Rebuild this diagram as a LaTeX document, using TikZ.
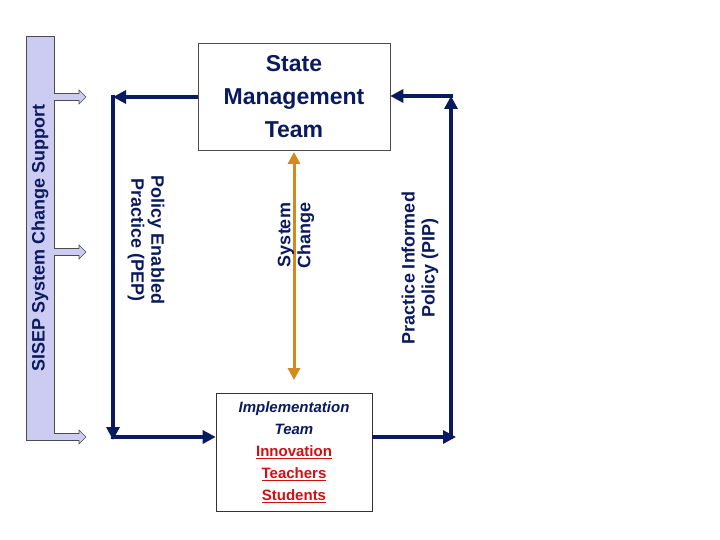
\documentclass[tikz,border=0pt]{standalone}
\usepackage{fontspec}
\setmainfont{Liberation Sans}
\usetikzlibrary{arrows.meta}
\definecolor{navy}{HTML}{0A1A5E}
\definecolor{lav}{HTML}{CCCCF2}
\definecolor{orng}{HTML}{D4891C}
\definecolor{redt}{HTML}{D01010}
\begin{document}
\begin{tikzpicture}[x=1pt,y=-1pt,
  loop/.style={navy,line width=4.5pt,-{Triangle[length=13pt,width=13pt]}},
  lbl/.style={font=\bfseries\fontsize{18}{20}\selectfont,text=navy,align=center}]
\useasboundingbox (0,0) rectangle (720,540);
\node[draw=gray!60!black,fill=lav,minimum width=28pt,minimum height=404pt,inner sep=0] (bar) at (40,238) {};
\node[rotate=90,font=\bfseries\fontsize{18}{19}\selectfont,text=navy] at (bar.center) {SISEP System Change Support};
\foreach \yy in {97,252,437}{
  \draw[gray!60!black,fill=lav,line width=0.6pt]
    (54,\yy-3.5) -- (79,\yy-3.5) -- (79,\yy-7) -- (86,\yy) -- (79,\yy+7) -- (79,\yy+3.5) -- (54,\yy+3.5);
}
\node[draw=black!70,line width=0.6pt,minimum width=192pt,minimum height=107pt,align=center,
  font=\bfseries\fontsize{23}{33}\selectfont,text=navy] (smt) at (294,96.5) {State\\Management\\Team};
\node[draw=black!80,line width=0.6pt,minimum width=156pt,minimum height=118pt,align=center,
  font=\bfseries\fontsize{15}{22}\selectfont] (imp) at (294,452)
  {\textcolor{navy}{\itshape Implementation}\\\textcolor{navy}{\itshape Team}\\
   \textcolor{redt}{\underline{Innovation}}\\\textcolor{redt}{\underline{Teachers}}\\\textcolor{redt}{\underline{Students}}};
\coordinate (tl) at (113,97); \coordinate (bl) at (113,440); \coordinate (bl2) at (111,437);
\coordinate (br) at (456,437); \coordinate (br2) at (451,439); \coordinate (tr) at (451,96);
\draw[loop] (smt.west |- tl) -- (tl);
\draw[loop] (113,95) -- (bl);
\draw[loop] (bl2) -- (imp.west |- bl2);
\draw[loop] (imp.east |- br) -- (br);
\draw[loop] (br2) -- (tr);
\draw[loop] (453,96) -- (smt.east |- tr);
\draw[orng,line width=3pt,{Triangle[length=12pt,width=12pt]}-{Triangle[length=12pt,width=12pt]}] (294,152) -- (294,380);
\node[lbl,rotate=-90] at (146,240) {Policy Enabled\\Practice (PEP)};
\node[lbl,rotate=90,text=navy] at (296,235) {System\\Change};
\node[lbl,rotate=90] at (420,268) {Practice Informed\\Policy (PIP)};
\end{tikzpicture}
\end{document}
